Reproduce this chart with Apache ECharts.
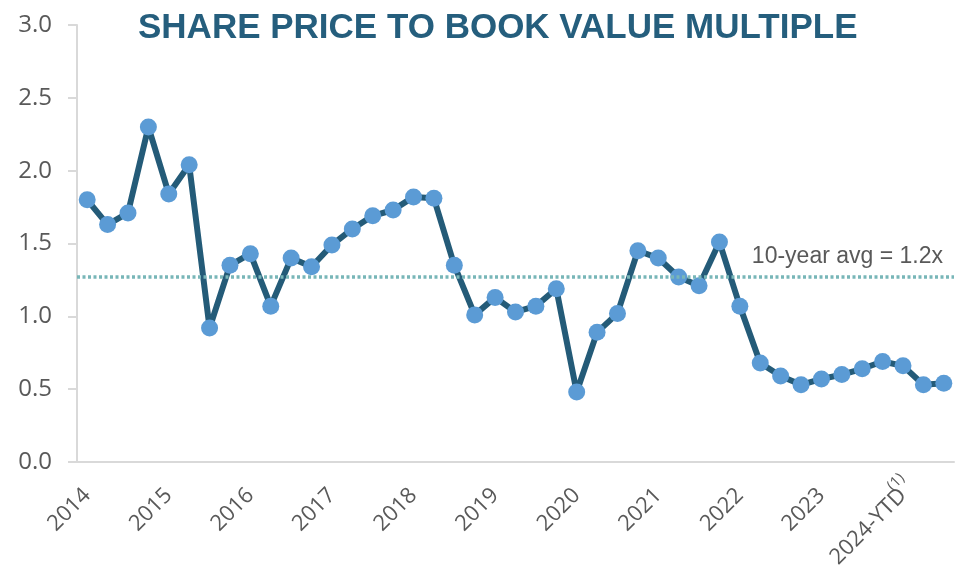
<!DOCTYPE html>
<html>
<head>
<meta charset="utf-8">
<script src="https://cdn.jsdelivr.net/npm/echarts@6/dist/echarts.min.js"></script>
<style>
html,body{margin:0;padding:0;background:#fff;}
#chart{width:962px;height:571px;}
</style>
</head>
<body>
<div id="chart"></div>
<script>
// Quarterly periods (43 points), 2014 Q1 through 2024 YTD
const categories = [
  '2014Q1','2014Q2','2014Q3','2014Q4',
  '2015Q1','2015Q2','2015Q3','2015Q4',
  '2016Q1','2016Q2','2016Q3','2016Q4',
  '2017Q1','2017Q2','2017Q3','2017Q4',
  '2018Q1','2018Q2','2018Q3','2018Q4',
  '2019Q1','2019Q2','2019Q3','2019Q4',
  '2020Q1','2020Q2','2020Q3','2020Q4',
  '2021Q1','2021Q2','2021Q3','2021Q4',
  '2022Q1','2022Q2','2022Q3','2022Q4',
  '2023Q1','2023Q2','2023Q3','2023Q4',
  '2024Q1','2024Q2','2024Q3'
];
const multiples = [
  1.80, 1.63, 1.71, 2.30,
  1.84, 2.04, 0.92, 1.35,
  1.43, 1.07, 1.40, 1.34,
  1.49, 1.60, 1.69, 1.73,
  1.82, 1.81, 1.35, 1.01,
  1.13, 1.03, 1.07, 1.19,
  0.48, 0.89, 1.02, 1.45,
  1.40, 1.27, 1.21, 1.51,
  1.07, 0.68, 0.59, 0.53,
  0.57, 0.60, 0.64, 0.69,
  0.66, 0.53, 0.54
];
const yearLabels = ['2014','2015','2016','2017','2018','2019','2020','2021','2022','2023','2024-YTD'];
const footnoteMark = '(1)';
const tenYearAvg = 1.27;
const avgLabel = '10-year avg = 1.2x';
const titleText = 'SHARE PRICE TO BOOK VALUE MULTIPLE';

const chart = echarts.init(document.getElementById('chart'), null, {renderer: 'canvas'});
const labelFont = '"Open Sans", "Noto Sans", sans-serif';

chart.setOption({
  animation: false,
  backgroundColor: '#ffffff',
  title: {
    text: titleText,
    left: 133,
    top: 6,
    textStyle: {
      fontFamily: '"Liberation Sans", Arial, sans-serif',
      fontWeight: 'bold',
      fontSize: 35,
      color: '#255E7D'
    }
  },
  grid: {left: 77, right: 8, top: 25, bottom: 109, containLabel: false, outerBoundsMode: 'none'},
  xAxis: {
    type: 'category',
    data: categories,
    boundaryGap: true,
    axisLine: {show: true, lineStyle: {color: '#D9D9D9', width: 2}},
    axisTick: {show: false},
    axisLabel: {
      interval: 3,
      rotate: 45,
      margin: 30,
      color: '#595959',
      fontFamily: labelFont,
      fontSize: 22,
      hideOverlap: false,
      formatter: function (v, i) {
        const y = yearLabels[Math.floor(i / 4)];
        if (y === '2024-YTD') return '{a|' + y + '}{sup|\u00a0' + footnoteMark + '}';
        return y;
      },
      rich: {
        a: {fontFamily: labelFont, fontSize: 22, color: '#595959'},
        sup: {fontFamily: labelFont, fontSize: 15, color: '#595959', width: 0, align: 'left', verticalAlign: 'top', padding: [0, 0, 24, 0]}
      }
    }
  },
  yAxis: {
    type: 'value',
    min: 0,
    max: 3,
    interval: 0.5,
    axisLine: {show: true, lineStyle: {color: '#D9D9D9', width: 2}},
    axisTick: {show: true, length: 9, lineStyle: {color: '#D9D9D9', width: 2}},
    splitLine: {show: false},
    axisLabel: {
      margin: 25,
      color: '#595959',
      fontFamily: labelFont,
      fontSize: 24,
      formatter: function (v) { return v.toFixed(1); }
    }
  },
  series: [
    {
      type: 'line',
      data: [],
      z: 1,
      silent: true,
      markLine: {
        silent: true,
        symbol: ['none', 'none'],
        lineStyle: {color: '#78B6B8', width: 3.5, type: [3, 2.5]},
        label: {
          show: true,
          position: 'insideEndTop',
          formatter: avgLabel,
          distance: [11, 9],
          fontFamily: '"Liberation Sans", Arial, sans-serif',
          fontSize: 23,
          color: '#595959'
        },
        data: [{yAxis: tenYearAvg}]
      }
    },
    {
      type: 'line',
      data: multiples,
      z: 3,
      symbol: 'circle',
      symbolSize: 17,
      showAllSymbol: true,
      lineStyle: {color: '#245B78', width: 6},
      itemStyle: {color: '#5B9BD5', borderWidth: 0}
    }
  ]
});
</script>
</body>
</html>
